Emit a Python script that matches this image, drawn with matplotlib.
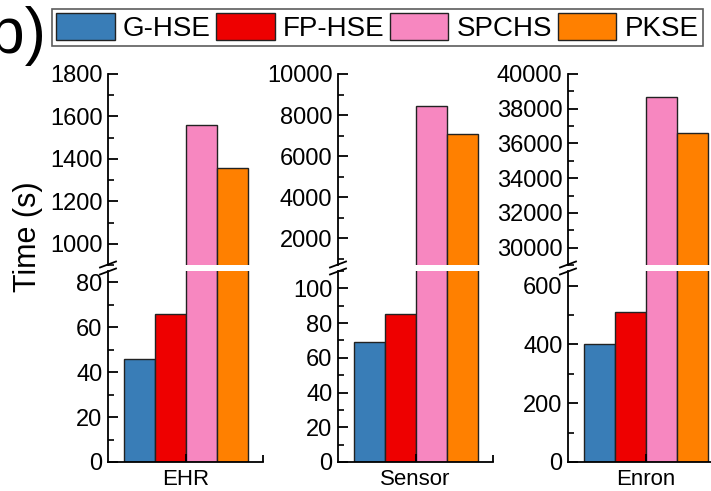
import numpy as np
import matplotlib
matplotlib.use("Agg")
import matplotlib.pyplot as plt
from matplotlib.ticker import MultipleLocator, FixedLocator

plt.rcParams['font.family'] = ['Liberation Sans', 'DejaVu Sans']

# data
datasets = ['EHR', 'Sensor', 'Enron']
schemes = ['G-HSE', 'FP-HSE', 'SPCHS', 'PKSE']
g_hse = [46, 69, 400]
fp_hse = [66, 85.5, 510]
spchs = [1560, 8440, 38670]
pkse = [1355, 7070, 36590]
colors = ['#397DB7', '#EE0000', '#F787C0', '#FF8000']

# broken y axis: lower part / upper part for each panel
low_lim = [(0, 85), (0, 110), (0, 650)]
low_step = [(20, 10), (20, 10), (200, 100)]
up_lim = [(900, 1800), (700, 10000), (29000, 40000)]
up_step = [(200, 100), (2000, 1000), (2000, 1000)]
up_first = [1000, 2000, 30000]

W, H = 711, 491
fig = plt.figure(figsize=(W / 100, H / 100), dpi=100)

lefts = [108, 338, 568]
aw = 155
top_up, bot_up = 74, 265
top_lo, bot_lo = 271, 462

series = [g_hse, fp_hse, spchs, pkse]
offsets = [-0.3, -0.1, 0.1, 0.3]
bw = 0.2

for k, name in enumerate(datasets):
    x0 = lefts[k] / W
    ax_up = fig.add_axes([x0, 1 - bot_up / H, aw / W, (bot_up - top_up) / H])
    ax_lo = fig.add_axes([x0, 1 - bot_lo / H, aw / W, (bot_lo - top_lo) / H])
    for ax in (ax_up, ax_lo):
        for s, vals in enumerate(series):
            ax.bar(offsets[s], vals[k], width=bw, color=colors[s],
                   edgecolor='#222222', linewidth=1.0, label=schemes[s])
        ax.set_xlim(-0.5, 0.5)
        ax.spines['top'].set_visible(False)
        ax.spines['right'].set_visible(False)
        ax.spines['left'].set_linewidth(1.3)
        ax.spines['bottom'].set_linewidth(1.3)
        ax.tick_params(axis='y', which='major', direction='in', length=7, width=1.3,
                       labelsize=17, pad=4)
        ax.tick_params(axis='y', which='minor', direction='in', length=4, width=1.2)
        ax.set_facecolor('none')

    # upper part
    ax_up.set_ylim(*up_lim[k])
    ax_up.yaxis.set_major_locator(FixedLocator(np.arange(up_first[k], up_lim[k][1] + 1, up_step[k][0])))
    ax_up.yaxis.set_minor_locator(MultipleLocator(up_step[k][1]))
    ax_up.spines['bottom'].set_visible(False)
    ax_up.set_xticks([])

    # lower part
    ax_lo.set_ylim(*low_lim[k])
    ax_lo.yaxis.set_major_locator(MultipleLocator(low_step[k][0]))
    ax_lo.yaxis.set_minor_locator(MultipleLocator(low_step[k][1]))
    ax_lo.set_xticks([0])
    ax_lo.set_xticklabels([name])
    ax_lo.xaxis.set_minor_locator(FixedLocator([0.5]))
    ax_lo.tick_params(axis='x', which='major', direction='in', length=6, width=1.3,
                      labelsize=16, pad=5)
    ax_lo.tick_params(axis='x', which='minor', direction='in', length=5, width=1.3)

    # break marks on the y axis
    xb = lefts[k]
    ym = (bot_up + top_lo) / 2
    for dy in (-3.5, 3.5):
        fig.add_artist(plt.Line2D([(xb - 8) / W, (xb + 8) / W],
                                  [1 - (ym + dy + 3) / H, 1 - (ym + dy - 3) / H],
                                  color='black', linewidth=1.3))

fig.text(28 / W, 1 - 237 / H, 'Time (s)', rotation=90, fontsize=22,
         ha='center', va='center')
fig.text(-32 / W, 1 - 53 / H, '(b)', fontsize=46, ha='left', va='baseline')

handles, labels = ax_lo.get_legend_handles_labels()
leg = fig.legend(handles, labels, ncol=4, loc='upper left',
                 bbox_to_anchor=(52 / W, 1 - 9 / H), fontsize=20,
                 handlelength=2.1, handleheight=1.1, handletextpad=0.3,
                 columnspacing=0.2, borderpad=0.15, borderaxespad=0,
                 fancybox=False, frameon=True)
leg.get_frame().set_edgecolor('#333333')
leg.get_frame().set_linewidth(1.2)

fig.savefig('out.png', dpi=100)
